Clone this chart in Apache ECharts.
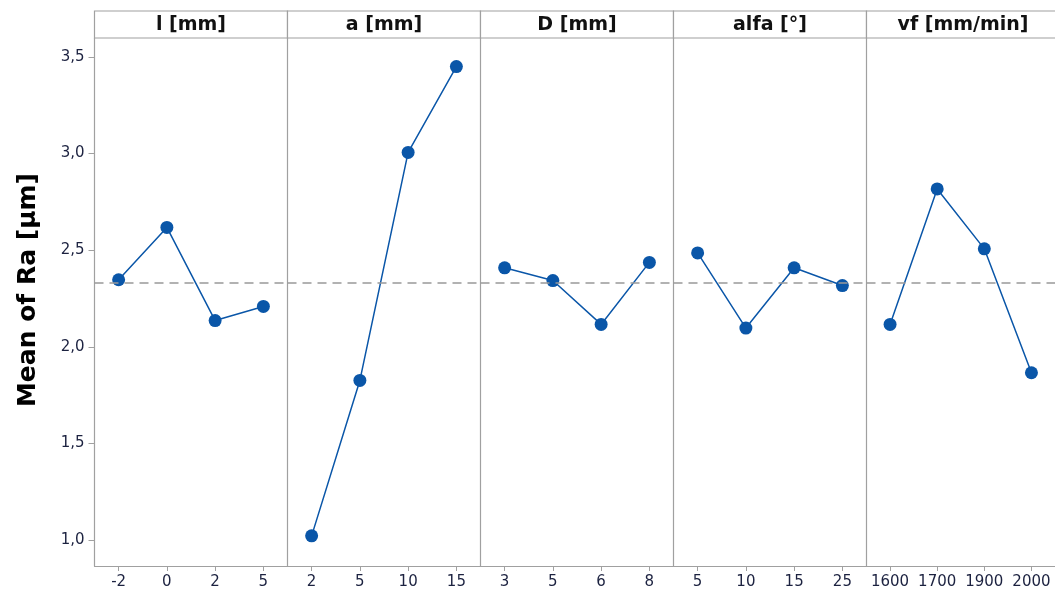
<!DOCTYPE html>
<html>
<head>
<meta charset="utf-8">
<script src="https://cdn.jsdelivr.net/npm/echarts@6/dist/echarts.min.js"></script>
<style>html,body{margin:0;padding:0;background:#fff}#c{width:1055px;height:594px}</style>
</head>
<body>
<div id="c"></div>
<script>
// ---- data ----
const panelTitles = ['l [mm]', 'a [mm]', 'D [mm]', 'alfa [°]', 'vf [mm/min]'];
const levels_l = ['-2', '0', '2', '5'];
const levels_a = ['2', '5', '10', '15'];
const levels_D = ['3', '5', '6', '8'];
const levels_alfa = ['5', '10', '15', '25'];
const levels_vf = ['1600', '1700', '1900', '2000'];
const means_l = [2.347, 2.618, 2.136, 2.209];
const means_a = [1.022, 1.826, 3.006, 3.450];
const means_D = [2.409, 2.343, 2.116, 2.437];
const means_alfa = [2.486, 2.097, 2.409, 2.317];
const means_vf = [2.116, 2.817, 2.507, 1.866];
const yTicks = [1.0, 1.5, 2.0, 2.5, 3.0, 3.5];
const yTitle = 'Mean of Ra [µm]';

const levels = [levels_l, levels_a, levels_D, levels_alfa, levels_vf];
const means = [means_l, means_a, means_D, means_alfa, means_vf];
const all = means.flat();
const grandMean = all.reduce((s, v) => s + v, 0) / all.length;

// ---- layout ----
const L0 = 94.5, W = 193, TOP = 38, BOTTOM = 28, HEAD_TOP = 11;
const gridColor = '#a0a0a0';
const lineColor = '#0a56a8';
const yMin = 0.866, yMax = 3.598;

const grids = [], xAxes = [], yAxes = [], series = [], graphics = [];
for (let i = 0; i < 5; i++) {
  grids.push({ left: L0 + i * W, width: W, top: TOP, bottom: BOTTOM, show: false, containLabel: false });
  xAxes.push({
    type: 'category', gridIndex: i, data: levels[i], boundaryGap: true,
    axisLine: { show: true, lineStyle: { color: gridColor, width: 1.2 } },
    axisTick: { show: true, alignWithLabel: true, length: 5, lineStyle: { color: gridColor } },
    axisLabel: { interval: 0, color: '#1c2240', fontSize: 15, fontFamily: 'DejaVu Sans', margin: 9 },
    splitLine: { show: false }
  });
  yAxes.push({
    type: 'value', gridIndex: i, min: yMin, max: yMax,
    axisLine: { show: true, lineStyle: { color: gridColor, width: 1.2 } },
    axisTick: { show: i === 0, length: 6, customValues: yTicks, lineStyle: { color: gridColor } },
    axisLabel: { show: i === 0, customValues: yTicks, color: '#1c2240', fontSize: 15, fontFamily: 'DejaVu Sans', margin: 10,
      formatter: v => v.toFixed(1).replace('.', ',') },
    splitLine: { show: false }
  });
  series.push({
    type: 'line', xAxisIndex: i, yAxisIndex: i, data: means[i],
    symbol: 'circle', symbolSize: 13,
    itemStyle: { color: lineColor },
    lineStyle: { color: lineColor, width: 1.5 },
    animation: false,
    markLine: {
      silent: true, symbol: 'none', label: { show: false },
      lineStyle: { color: '#999', type: [9, 6], width: 1.5 },
      data: [{ yAxis: grandMean }],
      animation: false
    },
    z: 3
  });
  // header cell
  graphics.push({
    type: 'rect', shape: { x: L0 + i * W, y: HEAD_TOP, width: W, height: TOP - HEAD_TOP },
    style: { fill: '#fff', stroke: gridColor, lineWidth: 1.2 }
  });
  graphics.push({
    type: 'text', x: L0 + i * W + W / 2, y: (HEAD_TOP + TOP) / 2 + 1,
    style: { text: panelTitles[i], fill: '#111', font: 'bold 19px "DejaVu Sans"', textAlign: 'center', textVerticalAlign: 'middle' }
  });
}
// y axis title
graphics.push({
  type: 'text', x: 28, y: 290, rotation: Math.PI / 2,
  style: { text: yTitle, fill: '#000', font: 'bold 25px "DejaVu Sans"', textAlign: 'center', textVerticalAlign: 'middle' }
});

const chart = echarts.init(document.getElementById('c'), null, { renderer: 'canvas' });
chart.setOption({
  animation: false,
  backgroundColor: '#fff',
  grid: grids, xAxis: xAxes, yAxis: yAxes, series: series,
  graphic: graphics
});
</script>
</body>
</html>
